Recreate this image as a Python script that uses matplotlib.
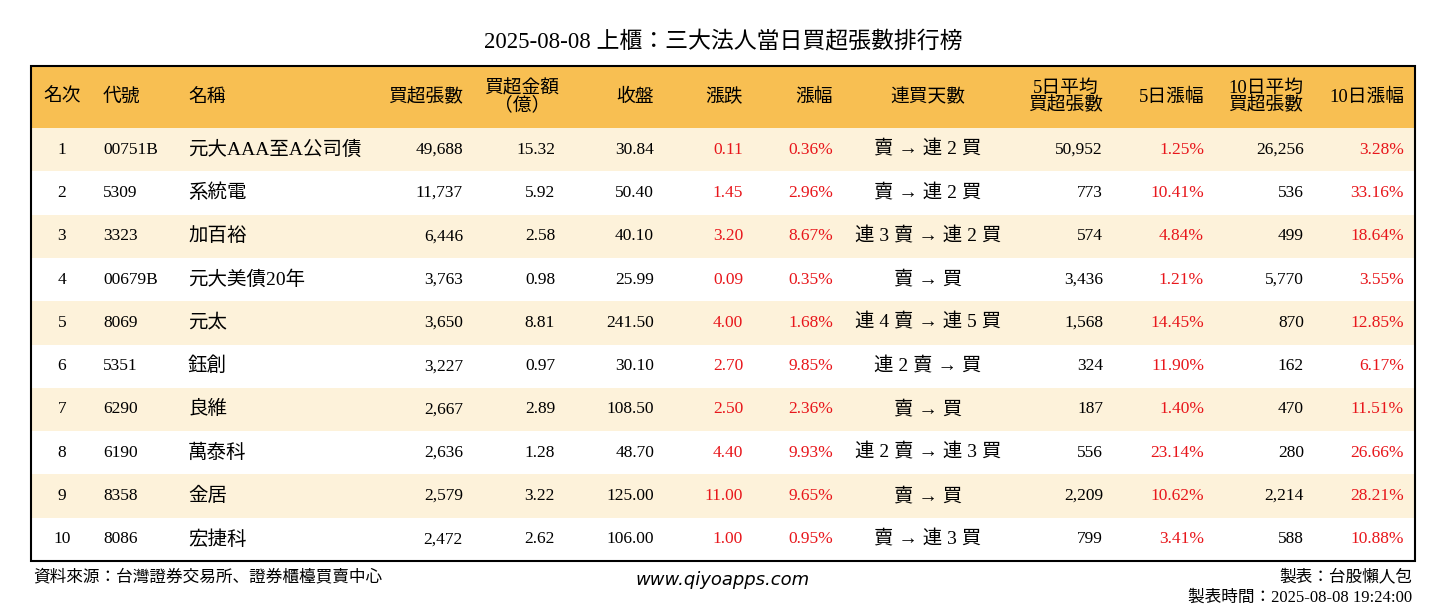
import matplotlib
matplotlib.use("Agg")
import matplotlib.pyplot as plt
from matplotlib.patches import Rectangle
from matplotlib import font_manager as fm

title = "2025-08-08 上櫃：三大法人當日買超張數排行榜"
headers = ["名次", "代號", "名稱", "買超張數", "買超金額\n（億）", "收盤", "漲跌", "漲幅", "連買天數",
           "5日平均\n買超張數", "5日漲幅", "10日平均\n買超張數", "10日漲幅"]
ranks = [1, 2, 3, 4, 5, 6, 7, 8, 9, 10]
codes = ["00751B", "5309", "3323", "00679B", "8069", "5351", "6290", "6190", "8358", "8086"]
names = ["元大AAA至A公司債", "系統電", "加百裕", "元大美債20年", "元太", "鈺創", "良維", "萬泰科", "金居", "宏捷科"]
net_buy = [49688, 11737, 6446, 3763, 3650, 3227, 2667, 2636, 2579, 2472]
amount = [15.32, 5.92, 2.58, 0.98, 8.81, 0.97, 2.89, 1.28, 3.22, 2.62]
close = [30.84, 50.40, 40.10, 25.99, 241.50, 30.10, 108.50, 48.70, 125.00, 106.00]
change = [0.11, 1.45, 3.20, 0.09, 4.00, 2.70, 2.50, 4.40, 11.00, 1.00]
pct = [0.36, 2.96, 8.67, 0.35, 1.68, 9.85, 2.36, 9.93, 9.65, 0.95]
streak = ["賣 → 連 2 買", "賣 → 連 2 買", "連 3 賣 → 連 2 買", "賣 → 買", "連 4 賣 → 連 5 買",
          "連 2 賣 → 買", "賣 → 買", "連 2 賣 → 連 3 買", "賣 → 買", "賣 → 連 3 買"]
avg5 = [50952, 773, 574, 3436, 1568, 324, 187, 556, 2209, 799]
pct5 = [1.25, 10.41, 4.84, 1.21, 14.45, 11.90, 1.40, 23.14, 10.62, 3.41]
avg10 = [26256, 536, 499, 5770, 870, 162, 470, 280, 2214, 588]
pct10 = [3.28, 33.16, 18.64, 3.55, 12.85, 6.17, 11.51, 26.66, 28.21, 10.88]

names_avail = sorted({f.name for f in fm.fontManager.ttflist})
cjk = [n for n in names_avail if "CJK" in n]
pref = [n for n in ["Noto Sans CJK TC", "Noto Sans CJK JP", "Noto Sans CJK SC"] if n in cjk] or cjk
FONT = ["Liberation Serif"] + pref[:1]
RED = "#E8161B"
W, H = 1446, 612
fig = plt.figure(figsize=(W/100, H/100), dpi=100)
ax = fig.add_axes([0, 0, 1, 1])
ax.set_xlim(0, W); ax.set_ylim(H, 0); ax.axis("off")

L, R, T, HB, B = 31, 1415, 66, 128, 561
rh = (B - HB) / len(ranks)
ax.add_patch(Rectangle((L, T), R-L, HB-T, facecolor="#F8BF52", edgecolor="none"))
for i in range(len(ranks)):
    if i % 2 == 0:
        ax.add_patch(Rectangle((L, HB+i*rh), R-L, rh, facecolor="#FDF2DA", edgecolor="none"))
ax.add_patch(Rectangle((L, T), R-L, B-T, facecolor="none", edgecolor="black", lw=1.5))

ax.text(723, 42, title, ha="center", va="center", fontsize=16.5, family=FONT)

hdr_pos = [(62, "center"), (103, "left"), (188, "left"), (463, "right"), (522, "center"), (654, "right"),
           (743, "right"), (833, "right"), (928, "center"), (1066, "center"), (1204, "right"),
           (1266, "center"), (1404, "right")]
cell_pos = [(62, "center"), (103, "left"), (188, "left"), (463, "right"), (555, "right"), (654, "right"),
            (743, "right"), (833, "right"), (928, "center"), (1103, "right"), (1204, "right"),
            (1304, "right"), (1404, "right")]
hy = (T + HB) / 2
for h, (x, ha) in zip(headers, hdr_pos):
    ax.text(x, hy, h, ha=ha, va="center", fontsize=13.5, family=FONT, linespacing=0.95)

for i in range(len(ranks)):
    y = HB + (i + 0.5) * rh
    vals = [(str(ranks[i]), "black"), (codes[i], "black"), (names[i], "black"),
            (f"{net_buy[i]:,}", "black"), (f"{amount[i]:.2f}", "black"), (f"{close[i]:.2f}", "black"),
            (f"{change[i]:.2f}", RED), (f"{pct[i]:.2f}%", RED), (streak[i], "black"),
            (f"{avg5[i]:,}", "black"), (f"{pct5[i]:.2f}%", RED), (f"{avg10[i]:,}", "black"),
            (f"{pct10[i]:.2f}%", RED)]
    for j, ((s, c), (x, ha)) in enumerate(zip(vals, cell_pos)):
        fs = 14 if j in (2, 8) else 12.5
        ax.text(x, y, s, ha=ha, va="center", fontsize=fs, family=FONT, color=c)

ax.text(33, 577, "資料來源：台灣證券交易所、證券櫃檯買賣中心", ha="left", va="center", fontsize=12, family=FONT)
ax.text(723, 580, "www.qiyoapps.com", ha="center", va="center", fontsize=13, family="DejaVu Sans", style="italic")
ax.text(1412, 577, "製表：台股懶人包", ha="right", va="center", fontsize=12, family=FONT)
ax.text(1412, 598, "製表時間：2025-08-08 19:24:00", ha="right", va="center", fontsize=12, family=FONT)

fig.savefig("out.png", dpi=100)
